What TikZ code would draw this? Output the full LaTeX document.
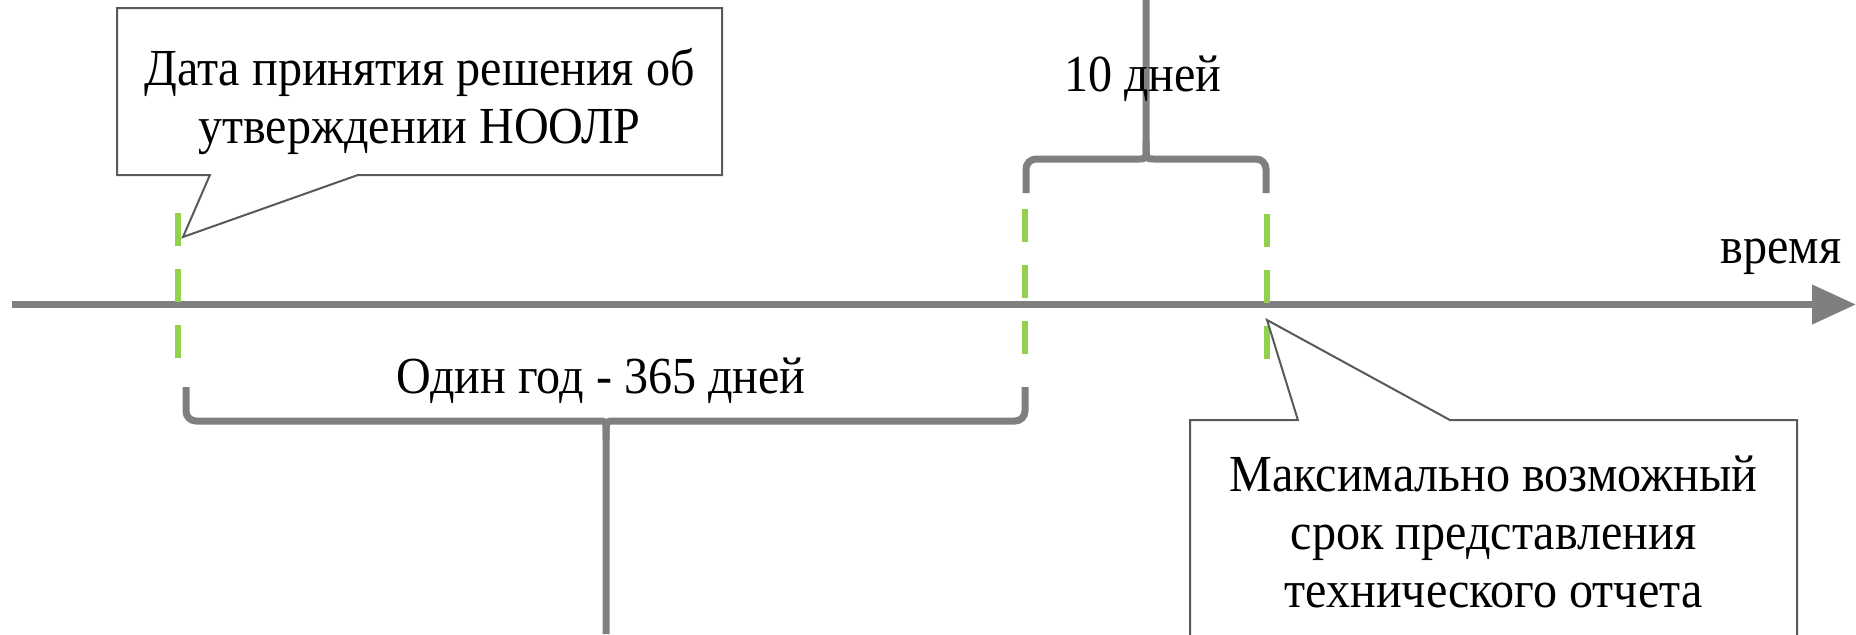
\documentclass[tikz,border=0pt]{standalone}
\usepackage{fontspec}
\setmainfont{Liberation Serif}[FakeStretch=0.925]
\usepackage{tikz}
\usetikzlibrary{arrows.meta,shapes.callouts}

\definecolor{axisgray}{HTML}{7F7F7F}
\definecolor{eventgreen}{HTML}{92D050}
\definecolor{boxgray}{HTML}{595959}

\tikzset{
	timeaxis/.style={draw=axisgray, line width=3.75pt, -{Triangle[length=22pt,width=19pt]}},
	eventline/.style={draw=eventgreen, line width=3pt, dash pattern=on 16.5pt off 11.5pt},
	spanbrace/.style={draw=axisgray, line width=3.5pt, rounded corners=5pt},
	note/.style={rectangle callout, draw=boxgray, line width=1pt, align=center, inner sep=0pt},
	spantext/.style={anchor=base, inner sep=0pt}
}

\begin{document}
\begin{tikzpicture}[x=0.5pt, y=-0.5pt, font=\fontsize{26pt}{29pt}\selectfont]
				\useasboundingbox (0,0) rectangle (1856,634);

				\coordinate (axisstart) at (12,304.5);
				\coordinate (axisend)   at (1856,304.5);
				\draw [timeaxis] (axisstart) -- (axisend);
				\node [spantext] (timelabel) at (1781,263) {время};

				\draw [eventline] (178,213)  -- (178,358);
				\draw [eventline] (1025,209) -- (1025,354);
				\draw [eventline] (1267,214) -- (1267,359);

				\draw [spanbrace] (1026,193) |- (1128,159) .. controls (1146,159) .. (1146,141) -- (1146,0);
				\draw [spanbrace] (1266,193) |- (1164,159) .. controls (1146,159) .. (1146,141);
				\node [spantext] (tendays) at (1143,91) {10 дней};

				\draw [spanbrace] (186,387) |- (588,421) .. controls (606,421) .. (606,439) -- (606,634);
				\draw [spanbrace] (1025,387) |- (624,421) .. controls (606,421) .. (606,439);
				\node [spantext] (oneyear) at (601,393) {Один год - 365 дней};

				\node [note, minimum width=302.5pt, minimum height=83.5pt,
					callout absolute pointer={(183,237)}, callout pointer width=74pt]
					(decisionnote) at (419.5,91.5) {\rule{0pt}{28.5pt}Дата принятия решения об\\утверждении НООЛР};
				\node [note, minimum width=303.5pt, minimum height=112pt,
					callout absolute pointer={(1267,320)}, callout pointer width=76pt]
					(reportnote) at (1493.5,532) {Максимально возможный\\срок представления\\технического отчета};
\end{tikzpicture}
\end{document}
